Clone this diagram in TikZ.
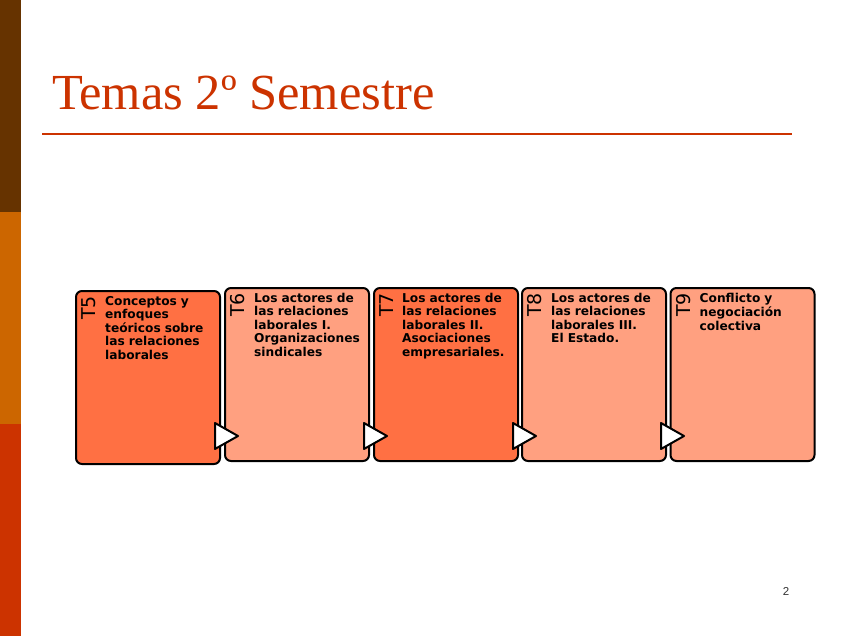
\documentclass[tikz,border=0pt]{standalone}
\usepackage{fontspec}
\setmainfont{Liberation Serif}
\newfontfamily\boxfont{DejaVu Sans}
\newfontfamily\numfont{Liberation Sans}
\usetikzlibrary{calc}
\definecolor{barbrown}{HTML}{663300}
\definecolor{barorange}{HTML}{CC6600}
\definecolor{barred}{HTML}{CC3300}
\definecolor{titlered}{HTML}{CC3300}
\definecolor{boxdark}{HTML}{FF7043}
\definecolor{boxlight}{HTML}{FFA080}
\begin{document}
\begin{tikzpicture}[x=1pt,y=-1pt,
  topicbox/.style={draw=black, line width=2pt, rounded corners=6pt,
    minimum width=144pt, minimum height=173pt, inner sep=0pt},
  boxtext/.style={anchor=north west, inner sep=0pt, text width=114pt, align=left,
    font=\boxfont\bfseries\fontsize{12.2}{13.5}\selectfont},
  tlabel/.style={anchor=north east, inner sep=0pt, rotate=90,
    font=\boxfont\fontsize{19}{21}\selectfont},
  arrowtri/.style={draw=black, fill=white, line width=2pt, line join=round}
]
\useasboundingbox (0,0) rectangle (848,636);
\fill[white] (0,0) rectangle (848,636);
% left bar
\fill[barbrown] (0,0) rectangle (21,212);
\fill[barorange] (0,212) rectangle (21,424);
\fill[barred] (0,424) rectangle (21,636);
% title
\node[anchor=base west, inner sep=0pt, text=titlered, font=\fontsize{50.5}{56}\selectfont] (title) at (52,110) {Temas 2º Semestre};
\coordinate (rulel) at (42,134);
\coordinate (ruler) at (792,134);
\draw[titlered, line width=2pt] (rulel) -- (ruler);
% boxes
\node[topicbox, fill=boxdark]  (b1) at (148,377.5) {};
\node[topicbox, fill=boxlight] (b2) at (297,374.5) {};
\node[topicbox, fill=boxdark]  (b3) at (446,374.5) {};
\node[topicbox, fill=boxlight] (b4) at (594,374.5) {};
\node[topicbox, fill=boxlight] (b5) at (742.5,374.5) {};
% labels
\foreach \b/\t in {b1/T5,b2/T6,b3/T7,b4/T8,b5/T9}{
  \node[tlabel] (\b lab) at ($(\b.north west)+(6.5,6)$) {\t};
}
% texts
\node[boxtext] (b1txt) at ($(b1.north west)+(30,5.5)$) {\strut Conceptos y\\enfoques\\teóricos sobre\\las relaciones\\laborales};
\node[boxtext] (b2txt) at ($(b2.north west)+(30,5.5)$) {\strut Los actores de\\las relaciones\\laborales I.\\Organizaciones\\sindicales};
\node[boxtext] (b3txt) at ($(b3.north west)+(29,5.5)$) {\strut Los actores de\\las relaciones\\laborales II.\\Asociaciones\\empresariales.};
\node[boxtext] (b4txt) at ($(b4.north west)+(30,5.5)$) {\strut Los actores de\\las relaciones\\laborales III.\\El Estado.};
\node[boxtext] (b5txt) at ($(b5.north west)+(30,5.5)$) {\strut Conflicto y\\negociación\\colectiva};
% arrows
\coordinate (arow) at (0,436);
\foreach \b in {b1,b2,b3,b4}{
  \draw[arrowtri] ($(\b.east |- arow)+(-6,-13)$) -- ($(\b.east |- arow)+(17,0)$) -- ($(\b.east |- arow)+(-6,13)$) -- cycle;
}
% page number
\node[inner sep=0pt, text=black!80, font=\numfont\fontsize{11.5}{13}\selectfont] (pnum) at (786,591) {2};
\end{tikzpicture}
\end{document}
